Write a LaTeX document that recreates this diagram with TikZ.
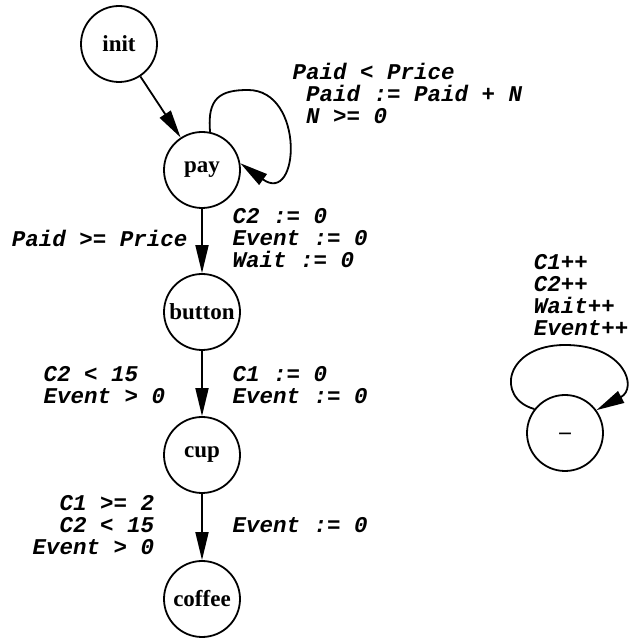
\documentclass[tikz,border=0pt]{standalone}
\usepackage{fontspec}
\setmainfont{Liberation Serif}
\newfontfamily\guardfont{Liberation Mono}
\usetikzlibrary{arrows.meta}

\begin{document}
\begin{tikzpicture}[x=1bp, y=1bp, >={Triangle[length=28bp, width=13bp]}, line width=1.8bp]
                \tikzset{state/.style={circle, draw, minimum size=76bp, inner sep=0pt, font=\fontsize{23bp}{23bp}\selectfont\bfseries}};
                \tikzset{guard/.style={inner sep=0pt, font=\fontsize{22.5bp}{22bp}\selectfont\guardfont\bfseries\itshape}};
                \useasboundingbox (0, 0) rectangle (629, 638);
                \node[state] (init) at (119, 594) {init};
                \node[state] (pay) at (202, 468) {pay};
                \node[state] (button) at (202, 326) {button};
                \node[state] (cup) at (202, 183) {cup};
                \node[state] (coffee) at (202, 39) {coffee};
                \node[state] (wild) at (565, 205) {\_};
                \draw[->] (init) -- (pay);
                \draw[->] (pay) -- (button);
                \draw[->] (button) -- (cup);
                \draw[->] (cup) -- (coffee);
                \draw[->] (pay.78) .. controls (207, 540) and (220, 548) .. (248, 548)
                    .. controls (305, 548) and (300, 432) .. (pay.10);
                \draw[->] (wild.142) .. controls (495, 240) and (505, 293) .. (565, 293)
                    .. controls (625, 293) and (638, 250) .. (wild.36);
                \node[guard, align=left, anchor=west] (payg) at (291.7, 544.3) {Paid < Price\\\phantom{N}Paid := Paid + N\\\phantom{N}N >= 0};
                \node[guard, anchor=east] (btng) at (188.3, 399.7) {Paid >= Price};
                \node[guard, align=left, anchor=west] (btnu) at (231.7, 399.7) {C2 := 0\\Event := 0\\Wait := 0};
                \node[guard, align=left, anchor=west] (cupg) at (42.7, 253) {C2 < 15\\Event > 0};
                \node[guard, align=left, anchor=west] (cupu) at (231.7, 253) {C1 := 0\\Event := 0};
                \node[guard, align=right, anchor=east] (cofg) at (155, 112.5) {C1 >= 2\\C2 < 15\\Event > 0};
                \node[guard, anchor=west] (cofu) at (231.7, 113) {Event := 0};
                \node[guard, align=left, anchor=west] (wildu) at (533, 343) {C1++\\C2++\\Wait++\\Event++};
            \end{tikzpicture}
\end{document}
